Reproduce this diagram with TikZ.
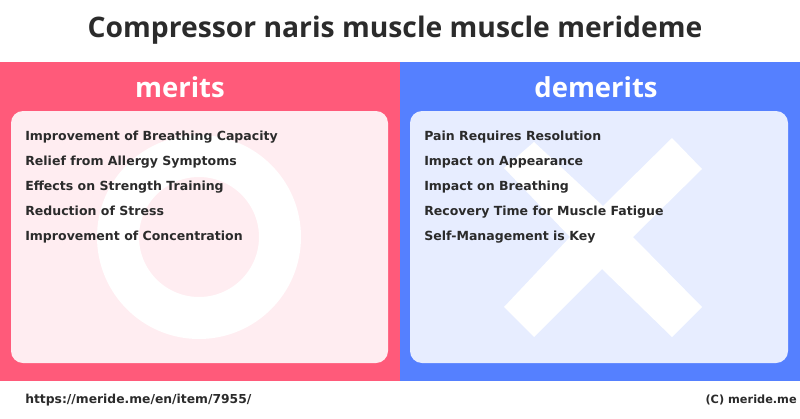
\documentclass[tikz,border=0pt]{standalone}
\usepackage{fontspec}
\setmainfont{DejaVu Sans}
\newfontfamily\headfont{Open Sans}
\usetikzlibrary{positioning}
\definecolor{meritred}{HTML}{FF5A7A}
\definecolor{demeritblue}{HTML}{5580FF}
\definecolor{meritpale}{HTML}{FFEDF1}
\definecolor{demeritpale}{HTML}{E7EDFF}
\definecolor{inkdark}{HTML}{2B2B2B}
\tikzstyle{band} = [rectangle, inner sep=0pt, draw=none, minimum height=239.25pt, minimum width=300pt]
\tikzstyle{heading} = [font=\headfont\bfseries\fontsize{20.6}{21}\selectfont, text=white]
\tikzstyle{entry} = [inner sep=0pt, font=\bfseries\fontsize{9.4}{10}\selectfont, text=inkdark, text height=7.5pt, text depth=2pt]
\tikzstyle{foot} = [inner sep=0pt, font=\bfseries\fontsize{9.25}{10}\selectfont, text=inkdark]

\begin{document}
\begin{tikzpicture}[x=0.75pt, y=-0.75pt, node distance=18.75pt]
\useasboundingbox (0,0) rectangle (800,418);
\fill [white] (0,0) rectangle (800,418);
\node (title) [font=\headfont\bfseries\fontsize{21.2}{22}\selectfont, text=inkdark] at (395,30) {Compressor naris muscle muscle merideme};
% two coloured bands
\node (meritband) [band, fill=meritred, anchor=north west] at (0,62) {};
\node (demeritband) [band, fill=demeritblue, anchor=north west] at (400,62) {};
\fill [meritpale, rounded corners=9pt] (11,111) rectangle (388,363);
\fill [demeritpale, rounded corners=9pt] (410,111) rectangle (788,363);
% big marks behind the text
\draw [white, line width=31.5pt] (199,237) circle (81);
\fill [white] (534,142) -- (603,206) -- (672,138) -- (702,169) -- (633,237) -- (702,307) -- (672,337) -- (602,269) -- (534,337) -- (504,307) -- (570,237) -- (504,168) -- cycle;
\node (meritshead) [heading] at (180,87) {merits};
\node (demeritshead) [heading] at (596,87) {demerits};
% merits
\node (m1) [entry, anchor=west] at (25,137) {Improvement of Breathing Capacity};
\node (m2) [entry, below=of m1.west, anchor=west] {Relief from Allergy Symptoms};
\node (m3) [entry, below=of m2.west, anchor=west] {Effects on Strength Training};
\node (m4) [entry, below=of m3.west, anchor=west] {Reduction of Stress};
\node (m5) [entry, below=of m4.west, anchor=west] {Improvement of Concentration};
% demerits
\node (d1) [entry, anchor=west] at (424,137) {Pain Requires Resolution};
\node (d2) [entry, below=of d1.west, anchor=west] {Impact on Appearance};
\node (d3) [entry, below=of d2.west, anchor=west] {Impact on Breathing};
\node (d4) [entry, below=of d3.west, anchor=west] {Recovery Time for Muscle Fatigue};
\node (d5) [entry, below=of d4.west, anchor=west] {Self-Management is Key};
\node (url) [foot, anchor=west] at (25,400) {https://meride.me/en/item/7955/};
\node (credit) [foot, anchor=east, font=\bfseries\fontsize{8.5}{10}\selectfont] at (797,400) {(C) meride.me};
\end{tikzpicture}
\end{document}
